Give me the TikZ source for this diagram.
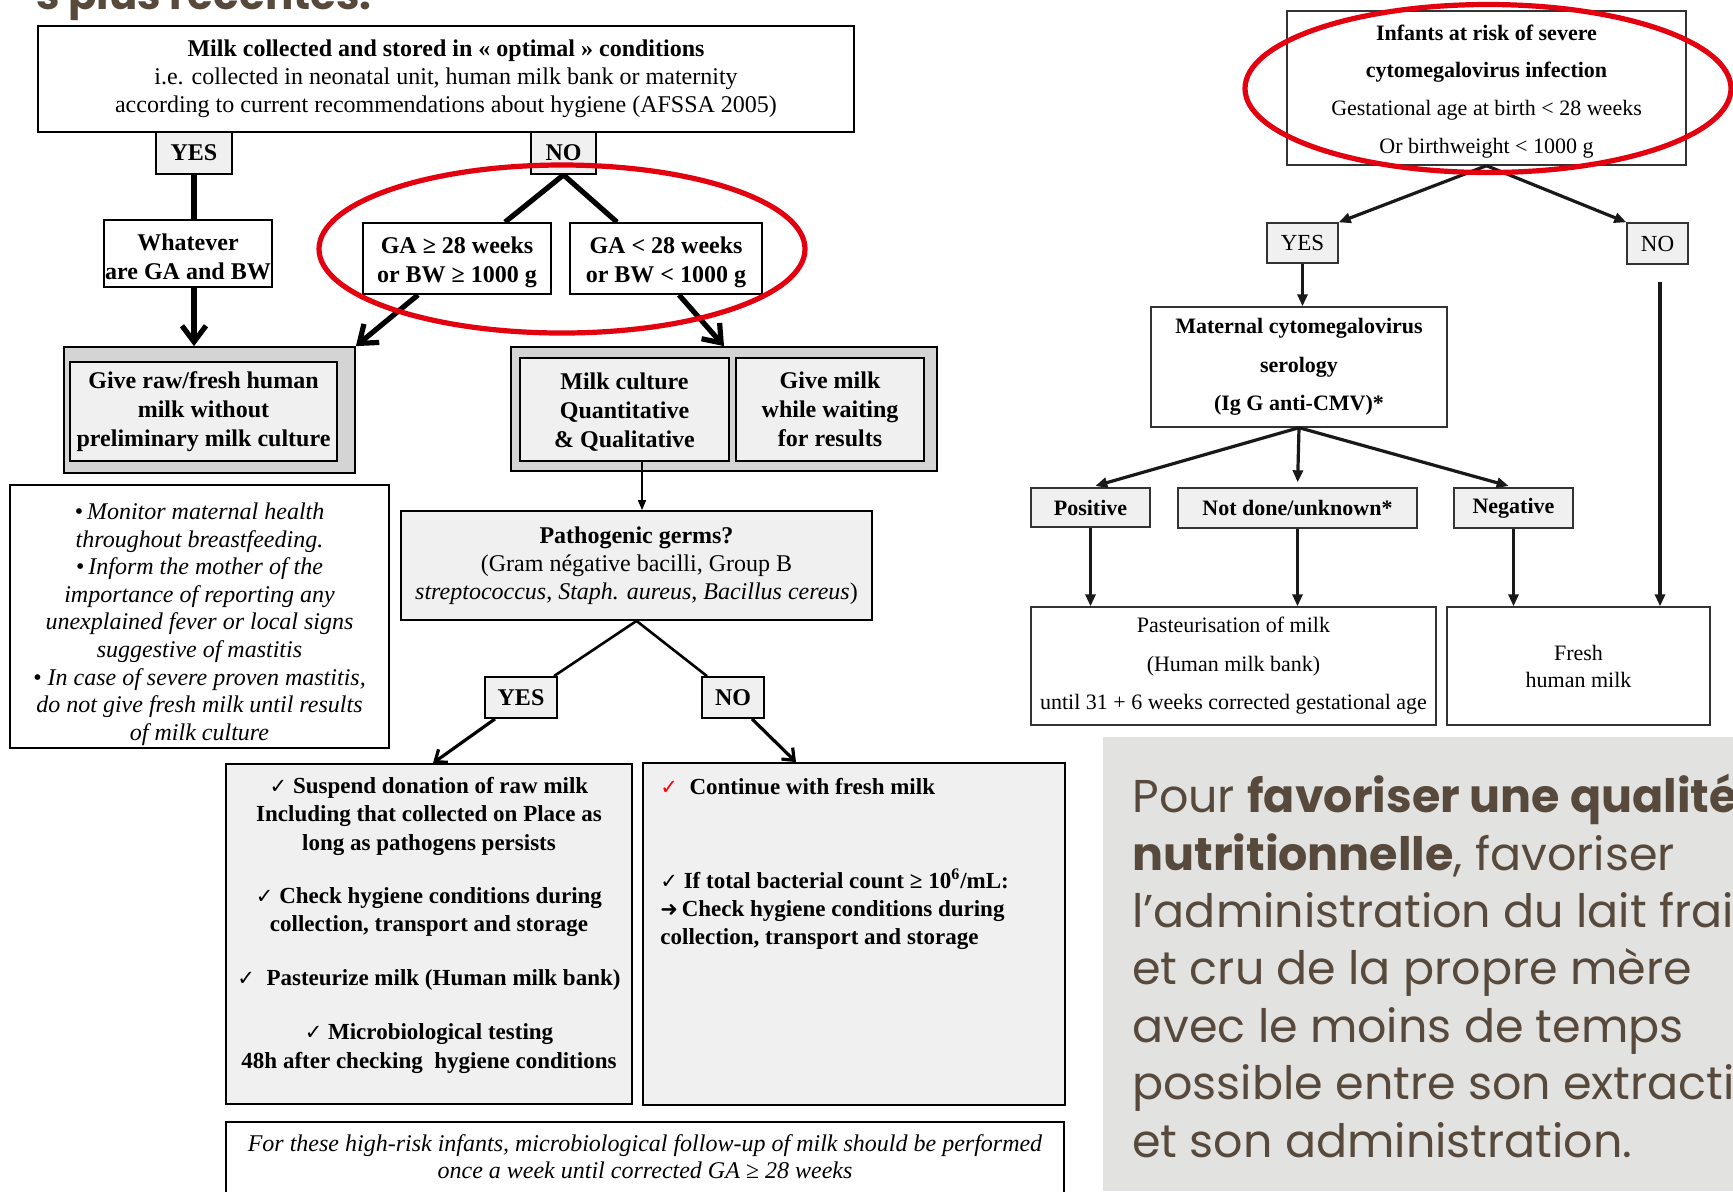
\documentclass[tikz,border=0pt]{standalone}
\usepackage{fontspec}
\setmainfont{Liberation Serif}
\newfontfamily\symfont{DejaVu Sans}
\newfontfamily\slidefont{Poppins}
\usepackage{tikz}
\usetikzlibrary{arrows.meta, calc}

\definecolor{labelgray}{HTML}{F0F0F0}
\definecolor{outergray}{HTML}{D4D4D4}
\definecolor{slidegray}{HTML}{E2E2E0}
\definecolor{slidebrown}{HTML}{574A3C}
\definecolor{ringred}{HTML}{E3000F}

\newcommand{\tick}{{\symfont\fontsize{10.5}{10}\selectfont ✓}}
\newcommand{\topgap}[1]{\rule{0pt}{#1}}

\begin{document}
\begin{tikzpicture}[x=0.5pt, y=-0.5pt,
  sz/.style 2 args={minimum width=#1*0.5pt, minimum height=#2*0.5pt},
  box/.style={draw, line width=0.9pt, inner sep=0pt, align=center, font=\fontsize{12}{13.9}\selectfont},
  boldbox/.style={box, font=\bfseries\fontsize{12}{14.6}\selectfont},
  tag/.style={box, fill=labelgray, font=\bfseries\fontsize{12}{14}\selectfont},
  rbox/.style={draw=black!80, line width=0.7pt, inner sep=0pt, align=center, font=\fontsize{11}{19.2}\selectfont},
  rtag/.style={rbox, fill=labelgray, font=\fontsize{11.5}{14}\selectfont},
  rboldtag/.style={rbox, fill=labelgray, font=\bfseries\fontsize{11}{14}\selectfont},
  bigline/.style={line width=2.6pt},
  bigarrow/.style={bigline, -{Straight Barb[length=8pt, width=12pt]}},
  midline/.style={line width=1.3pt},
  midarrow/.style={line width=1.6pt, -{Straight Barb[length=5pt, width=8pt]}},
  thinarrow/.style={line width=0.8pt, -{Triangle[length=5pt, width=4pt]}},
  rarrow/.style={line width=1.6pt, black!90, -{Triangle[length=6pt, width=5pt]}},
  ring/.style={draw=ringred, line width=2.6pt}
]

  \useasboundingbox (0,0) rectangle (1733,1191);
  \clip (0,0) rectangle (1733,1191);
  \fill[white] (0,0) rectangle (1733,1191);

  % slide title, cut by the top edge
  \node[font=\slidefont\bfseries\fontsize{21}{21}\selectfont, text=slidebrown, anchor=base east, inner sep=0pt] (title) at (372,9) {s plus récentes.};

  % left chart
  \node[box, sz={816}{106}] (optimal) at (446,79) {\textbf{Milk collected and stored in « optimal » conditions}\\i.e. collected in neonatal unit, human milk bank or maternity\\according to current recommendations about hygiene (AFSSA 2005)};

  \node[tag, sz={76}{42}] (yesA) at (194,153) {YES};
  \node[tag, sz={65}{42}] (noA) at (563.5,153) {NO};

  \node[boldbox, sz={168}{67}] (whatever) at (188,253.5) {\topgap{12pt}Whatever\\are GA and BW};
  \node[boldbox, sz={188}{71}] (gaHigh) at (457,258.5) {\topgap{12pt}GA ≥ 28 weeks\\or BW ≥ 1000 g};
  \node[boldbox, sz={192}{71}] (gaLow) at (666,258.5) {\topgap{12pt}GA < 28 weeks\\or BW < 1000 g};

  \node[box, fill=outergray, sz={291}{126}] (rawOuter) at (209.5,410) {};
  \node[boldbox, fill=labelgray, sz={267}{99}] (raw) at (203.5,411.5) {Give raw/fresh human\\milk without\\preliminary milk culture};

  \node[box, fill=outergray, sz={426}{124}] (cultOuter) at (724,409) {};
  \node[boldbox, fill=labelgray, sz={209}{103}] (culture) at (624.5,409.5) {\topgap{11pt}Milk culture\\Quantitative\\\& Qualitative};
  \node[boldbox, fill=labelgray, sz={188}{103}] (waiting) at (830,409.5) {Give milk\\while waiting\\for results};

  \node[box, fill=labelgray, sz={471}{109}] (germs) at (636.5,565.5) {\textbf{Pathogenic germs?}\\(Gram négative bacilli, Group B\\\textit{streptococcus}, \textit{Staph. aureus}, \textit{Bacillus cereus})};

  \node[box, sz={379}{263}, font=\itshape\fontsize{12}{13.8}\selectfont] (careNotes) at (199.5,616.5) {\topgap{16pt}•\,Monitor maternal health\\throughout breastfeeding.\\•\,Inform the mother of the\\importance of reporting any\\unexplained fever or local signs\\suggestive of mastitis\\•\ In case of severe proven mastitis,\\do not give fresh milk until results\\of milk culture};

  \node[tag, sz={72}{41}] (yesB) at (521,697.5) {YES};
  \node[tag, sz={62}{41}] (noB) at (733,697.5) {NO};

  \node[box, fill=labelgray, sz={406}{340}] (suspend) at (429,934) {};
  \node[align=center, inner sep=0pt, font=\bfseries\fontsize{11.5}{14.1}\selectfont, anchor=north] (suspendText) at (429,777) {\tick\ Suspend donation of raw milk\\Including that collected on Place as\\long as pathogens persists\\[12.5pt]\tick\ Check hygiene conditions during\\collection, transport and storage\\[13pt]\tick\ \ Pasteurize milk (Human milk bank)\\[13pt]\tick\ Microbiological testing\\48h after checking\ \ hygiene conditions};

  \node[box, fill=labelgray, sz={422}{342}] (keepFresh) at (854,934) {};
  \node[align=left, inner sep=0pt, font=\bfseries\fontsize{11.5}{14}\selectfont, anchor=north west] (keepFreshText) at (660,778) {\textcolor{red}{\tick}\ \ Continue with fresh milk\\[33pt]\tick\ If total bacterial count ≥ 10\textsuperscript{6}/mL:\\{\symfont\bfseries\fontsize{10.5}{10}\selectfont ➜}\,Check hygiene conditions during\\collection, transport and storage};

  \node[box, sz={838}{100}, anchor=north] (followUp) at (645,1121) {};
  \node[align=center, inner sep=0pt, font=\itshape\fontsize{12}{13.6}\selectfont, anchor=north] (followUpText) at (645,1134) {For these high-risk infants, microbiological follow-up of milk should be performed\\once a week until corrected GA ≥ 28 weeks};

  \draw[bigline] (yesA.south) -- (yesA.south |- whatever.north);
  \draw[bigarrow] (yesA.south |- whatever.south) -- (yesA.south |- rawOuter.north);
  \draw[bigline] (noA.south) -- ($(gaHigh.north)+(48,0)$);
  \draw[bigline] (noA.south) -- ($(gaLow.north)+(-49,0)$);
  \draw[bigarrow] ($(gaHigh.south)+(-39,0)$) -- (rawOuter.north east);
  \draw[bigarrow] ($(gaLow.south)+(13,0)$) -- (cultOuter.north);
  \coordinate (cultureOut) at ($(culture.south)+(17.5,0)$);
  \draw[thinarrow] (cultureOut) -- (cultureOut |- germs.north);
  \draw[midline] (germs.south) -- ($(yesB.north)+(33,0)$);
  \draw[midline] (germs.south) -- ($(noB.north)+(-26,0)$);
  \draw[midarrow] ($(yesB.south)+(-26,0)$) -- ($(suspend.north)+(4,0)$);
  \draw[midarrow] ($(noB.south)+(19,0)$) -- ($(keepFresh.north)+(-58,0)$);

  % right chart: cytomegalovirus
  \node[rbox, sz={399}{154}, font=\fontsize{11}{18.8}\selectfont] (infants) at (1486.5,88) {\topgap{11pt}\textbf{Infants at risk of severe}\\\textbf{cytomegalovirus infection}\\Gestational age at birth < 28 weeks\\Or birthweight < 1000 g};
  \node[rtag, sz={71}{40}] (yesR) at (1302.5,243) {YES};
  \node[rtag, sz={61}{41}] (noR) at (1657.5,243.5) {NO};
  \node[rbox, sz={296}{120}, font=\bfseries\fontsize{11}{19.2}\selectfont] (serology) at (1299,367) {Maternal cytomegalovirus\\serology\\(Ig G anti-CMV)*};
  \node[rboldtag, sz={119}{39}] (positive) at (1090.5,507.5) {Positive};
  \node[rboldtag, sz={239}{40}] (unknown) at (1297.5,508) {Not done/unknown*};
  \node[rboldtag, sz={119}{40}] (negative) at (1513.5,508) {Negative};
  \node[rbox, sz={405}{118}] (pasteur) at (1233.5,666) {Pasteurisation of milk\\(Human milk bank)\\until 31 + 6 weeks corrected gestational age};
  \node[rbox, sz={263}{118}, font=\fontsize{11}{13.5}\selectfont] (fresh) at (1578.5,666) {Fresh\\human milk};

  \draw[rarrow] (infants.south) -- (yesR.north east);
  \draw[rarrow] (infants.south) -- (noR.north west);
  \draw[rarrow] (yesR.south) -- (yesR.south |- serology.north);
  \coordinate (noDrop) at ($(noR.south)+(2.5,17)$);
  \draw[rarrow] (noDrop) -- (noDrop |- fresh.north);
  \draw[rarrow, shorten >=2.5pt] (serology.south) -- (positive.north);
  \draw[rarrow, shorten >=2.5pt] (serology.south) -- (unknown.north);
  \draw[rarrow, shorten >=2.5pt] (serology.south) -- (negative.north);
  \draw[rarrow] (positive.south) -- (positive.south |- pasteur.north);
  \draw[rarrow] (unknown.south) -- (unknown.south |- pasteur.north);
  \draw[rarrow] (negative.south) -- (negative.south |- fresh.north);

  % red rings
  \draw[ring] (562,249) ellipse [x radius=243, y radius=84];
  \draw[ring] (1488,88.5) ellipse [x radius=243, y radius=84];

  % slide text panel
  \fill[slidegray] (1103,737) rectangle (1733,1191);
  \node[font=\slidefont\fontsize{23}{28.7}\selectfont, text=slidebrown, align=left, anchor=base west, inner sep=0pt] (slideText) at (1132,1157) {Pour \textbf{favoriser une qualité}\\\textbf{nutritionnelle}, favoriser\\l’administration du lait frais\\et cru de la propre mère\\avec le moins de temps\\possible entre son extraction\\et son administration.};

\end{tikzpicture}
\end{document}
